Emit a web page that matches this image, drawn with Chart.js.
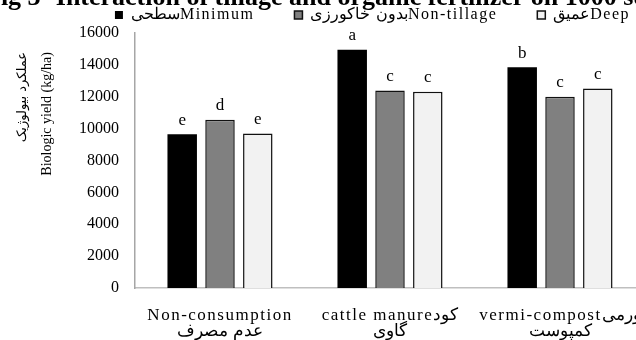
<!DOCTYPE html>
<html>
<head>
<meta charset="utf-8">
<script src="https://cdn.jsdelivr.net/npm/chart.js@4"></script>
<style>
  html, body { margin: 0; padding: 0; background: #fff; overflow: hidden; width: 636px; height: 340px; }
  #wrap { position: absolute; left: 0; top: -20px; width: 660px; height: 372px; }
</style>
</head>
<body>
<div id="wrap"><canvas id="c" width="660" height="372"></canvas></div>
<script>
// Organic fertilizer treatments (two-line labels: English / Persian)
const categories = [
  ['Non-consumption', 'عدم مصرف'],
  ['cattle manureکود', 'گاوی'],
  ['vermi-compostورمی', 'کمپوست']
];

// Tillage systems
const seriesNames = ['سطحیMinimum', 'بدون خاکورزیNon-tillage', 'عمیقDeep'];

// Biologic yield (kg/ha)
const minimumYield    = [9650, 14950, 13850];
const nonTillageYield = [10550, 12400, 12000];
const deepYield       = [9700, 12320, 12520];

// Mean comparison letters
const minimumLetters    = ['e', 'a', 'b'];
const nonTillageLetters = ['d', 'c', 'c'];
const deepLetters       = ['e', 'c', 'c'];

const yTicks = [0, 2000, 4000, 6000, 8000, 10000, 12000, 14000, 16000];

const titleText = 'Fig 3- Interaction of tillage and organic fertilizer on 1000 seed weight';
const yTitleFa = 'عملکرد بیولوژیک';
const yTitleEn = 'Biologic yield (kg/ha)';

const SERIF = "'Liberation Serif', 'Times New Roman', serif";

// Wraps a method so it runs with extra letter spacing and an optional shift
function wrapDraw(obj, name, ctx, spacing, dx, dy) {
  const orig = obj[name];
  obj[name] = function (...args) {
    ctx.save();
    ctx.letterSpacing = spacing;
    if (dx || dy) ctx.translate(dx, dy);
    try { return orig.apply(this, args); }
    finally { ctx.restore(); }
  };
}

const LEGEND_HEIGHT = 21.5;

const layoutPlugin = {
  id: 'layoutTweaks',
  afterInit(chart) {
    const lg = chart.legend;
    const ctx = chart.ctx;
    // measure with the same tracking as drawn, then keep the legend band thin
    const fit = lg.fit;
    lg.fit = function (...args) {
      ctx.save();
      ctx.letterSpacing = '1.5px';
      try { fit.apply(this, args); } finally { ctx.restore(); }
      this.height = LEGEND_HEIGHT;
    };
    // legend row sits right of centre, just under the heading
    wrapDraw(lg, 'draw', ctx, '1.5px', 50, -44.5);
  },
  afterLayout(chart) {
    const sx = chart.scales.x;
    if (sx && !sx.__spaced) {
      wrapDraw(sx, 'drawLabels', chart.ctx, '1.5px', 0, 0);
      sx.__spaced = true;
    }
    // the heading runs on past the right edge at its natural width
    chart.titleBlock.left = -15;
    chart.titleBlock.right = 1000;
    // room for the shifted legend row inside its drawing area
    chart.legend.bottom = chart.legend.top + 120;
  }
};

// Draws the significance letter above each bar
const letterPlugin = {
  id: 'letters',
  afterDatasetsDraw(chart) {
    const ctx = chart.ctx;
    ctx.save();
    ctx.font = '17px ' + SERIF;
    ctx.fillStyle = '#000';
    ctx.textAlign = 'center';
    ctx.textBaseline = 'middle';
    chart.data.datasets.forEach((ds, di) => {
      const meta = chart.getDatasetMeta(di);
      meta.data.forEach((bar, i) => {
        ctx.fillText(ds.letters[i], bar.x, bar.y - 14);
      });
    });
    ctx.restore();
  }
};

// Two-line rotated y-axis title
const yTitlePlugin = {
  id: 'yTitle',
  afterDraw(chart) {
    const ctx = chart.ctx;
    const top = chart.chartArea.top + 19;
    const lines = [
      { text: yTitleFa, x: 23, font: "13px 'DejaVu Sans', sans-serif" },
      { text: yTitleEn, x: 47, font: '14px ' + SERIF }
    ];
    lines.forEach(l => {
      ctx.save();
      ctx.fillStyle = '#000';
      ctx.textAlign = 'right';
      ctx.textBaseline = 'middle';
      ctx.translate(l.x, top);
      ctx.rotate(-Math.PI / 2);
      ctx.font = l.font;
      ctx.fillText(l.text, 0, 0);
      ctx.restore();
    });
  }
};

new Chart(document.getElementById('c'), {
  type: 'bar',
  data: {
    labels: categories,
    datasets: [
      { label: seriesNames[0], data: minimumYield, letters: minimumLetters,
        backgroundColor: '#000000', borderColor: '#000000', borderWidth: 0 },
      { label: seriesNames[1], data: nonTillageYield, letters: nonTillageLetters,
        backgroundColor: '#808080', borderColor: '#111111', borderWidth: 1.5 },
      { label: seriesNames[2], data: deepYield, letters: deepLetters,
        backgroundColor: '#f2f2f2', borderColor: '#111111', borderWidth: 1.5 }
    ]
  },
  options: {
    responsive: false,
    animation: false,
    devicePixelRatio: 1,
    layout: { padding: { left: 0, right: 15, top: 0, bottom: 0 } },
    datasets: { bar: { categoryPercentage: 0.667, barPercentage: 0.78 } },
    plugins: {
      tooltip: { enabled: false },
      title: {
        display: true,
        text: titleText,
        align: 'start',
        color: '#000',
        font: { family: SERIF, size: 26, weight: 'bold', lineHeight: 1 },
        padding: { top: 5.5, bottom: 0 }
      },
      legend: {
        display: true,
        position: 'top',
        labels: {
          color: '#000',
          font: { family: SERIF, size: 16 },
          boxWidth: 8,
          boxHeight: 8,
          padding: 40
        }
      }
    },
    scales: {
      x: {
        grid: { display: false, drawTicks: false },
        border: { display: true, color: '#bfbfbf', width: 1.5 },
        ticks: {
          color: '#000',
          font: { family: SERIF, size: 17, lineHeight: 0.98 },
          padding: 19,
          maxRotation: 0,
          autoSkip: false
        },
        afterFit(scale) { scale.height = 64; }
      },
      y: {
        min: 0,
        max: 16000,
        grid: { display: false, drawTicks: false },
        border: { display: true, color: '#a6a6a6', width: 1.5 },
        afterBuildTicks(scale) { scale.ticks = yTicks.map(v => ({ value: v })); },
        ticks: {
          color: '#000',
          font: { family: SERIF, size: 16 },
          padding: 16,
          callback: (v) => String(v)
        },
        afterFit(scale) { scale.width = 135; }
      }
    }
  },
  plugins: [layoutPlugin, letterPlugin, yTitlePlugin]
});
</script>
</body>
</html>
